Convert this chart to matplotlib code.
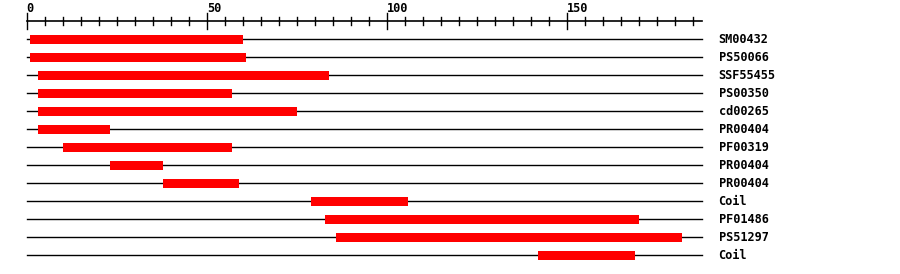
import numpy as np
import matplotlib.pyplot as plt

# domain hits on the sequence (residue start / end)
names = ["SM00432", "PS50066", "SSF55455", "PS00350", "cd00265", "PR00404",
         "PF00319", "PR00404", "PR00404", "Coil", "PF01486", "PS51297", "Coil"]
starts = [1, 1, 3, 3, 3, 3, 10, 23, 38, 79, 83, 86, 142]
ends = [60, 61, 84, 57, 75, 23, 57, 38, 59, 106, 170, 182, 169]
seq_len = 187.5
major_ticks = [0, 50, 100, 150]
tick_step = 5

fig = plt.figure(figsize=(9, 2.74), dpi=100)
ax = fig.add_axes([0, 0, 1, 1])
ax.set_xlim(-7.42, 242.6)
ax.set_ylim(13.04, -2.18)
ax.axis("off")

font = dict(family="DejaVu Sans Mono", weight="bold", fontsize=8.6)

# ruler
ax.plot([0, seq_len], [-1, -1], color="black", lw=1.2)
for t in np.arange(0, seq_len, tick_step):
    h = 0.44 if t in major_ticks else 0.22
    ax.plot([t, t], [-1 - h, -1 + h], color="black", lw=1.0)
for t in major_ticks:
    ax.text(t, -1.53, str(t), ha="left", va="baseline", **font)

# one track per hit
for i, (name, s, e) in enumerate(zip(names, starts, ends)):
    ax.plot([0, seq_len], [i, i], color="black", lw=1.0, zorder=1)
    ax.barh(i, e - s, left=s, height=0.5, color="#ff0000", zorder=2)
    ax.text(192.2, i, name, ha="left", va="center", **font)

fig.savefig("out.png", dpi=100)
